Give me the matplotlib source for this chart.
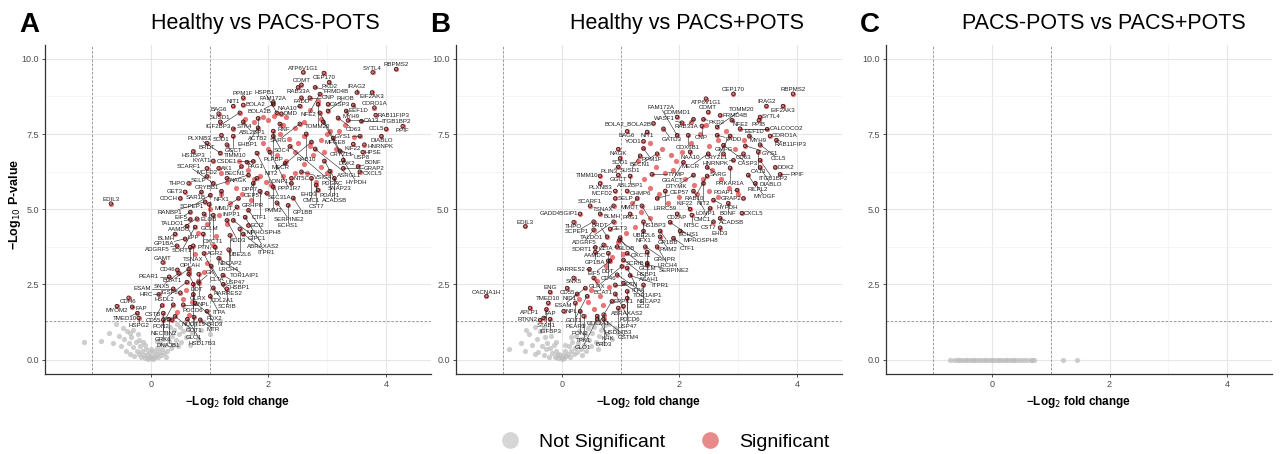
import numpy as np
import matplotlib
matplotlib.use("Agg")
import matplotlib.pyplot as plt
from matplotlib.lines import Line2D

plt.rcParams['font.family'] = ['Liberation Sans', 'DejaVu Sans']

# ---- panel A : Healthy vs PACS-POTS (labelled significant proteins)
a_genes = ["RBPMS2", "SYTL4", "ATP6V1G1", "CEP170", "COMT", "PKD2", "RAB33A", "FRMD4B", "IRAG2", "EIF2AK3",
           "FADD", "CNP", "NFE2", "PPM1F", "FAM172A", "NAA10", "TOMM20", "CASP3", "EEF1D", "CORO1A",
           "NIT1", "BOLA2", "BOLA2B", "HSPB1", "DMD", "BAG6", "IGF2BP3", "MFGE8", "RHOB", "MYH9",
           "RAB11FIP3", "CD63", "CA13", "ITGB1BP2", "SUSD1", "ABL2BP1", "ACTB2", "RNF", "SARG", "CRYZL1",
           "EHBP1", "STK4", "PLPBP", "CCL5", "PPIF", "DIABLO", "RAB10", "GYS1", "DOK2", "SOD1",
           "GGCT", "SDC4", "BRDT", "TIMM10", "MECR", "KIF22", "HNRNPK", "ASRGL1", "HS1BP3", "PLXNB3",
           "SEC31A", "PPP1R7", "PDGFC", "USP8", "HPSE", "KYAT1", "PAG1", "CSDE1", "HYPDH", "MCFD2",
           "AK1", "BECN1", "NIT2", "SNAP23", "GRAP2", "BDNF", "CXCL5", "VSIG4", "PDAP1", "NT5C",
           "ACADSB", "SELP", "NAGK", "CRYBB1", "DPP7", "CMC1", "CST7", "LONP1", "EHD3", "THPO",
           "SCARF1", "GRHPR", "PMM2", "GET3", "SAR1B", "NFX1", "CTF1", "CEP57", "GP1BB", "COCH",
           "SCPEP1", "MMUT", "SERPINE2", "ECHS1", "EDIL3", "RANBP1", "GCLM", "INPP1", "MPHOSPH8", "EIF5",
           "ELOB", "OXCT1", "AAMDC", "TALDO1", "ADD3", "GIPC1", "ABRAXAS2", "ECI2", "LPP", "SORT1",
           "UBE2L6", "ITPR1", "BLMH", "PTN", "NECAP2", "GP1BA", "TSNAX", "ADGRF5", "OPLAH", "AGR2",
           "LRCH4", "CLTA", "TOR1AIP1", "GAMT", "CD46", "BCAT1", "RARRES2", "SNX5", "DDT", "GLRX",
           "USP47", "PEAR1", "HSDL2", "HSBP1", "PDCD6", "GK", "ESAM", "COL2A1", "SCRIB", "HRC",
           "IGSF8", "NUDT15", "ITPA", "CDH6", "MYOM2", "FAP", "CD55", "PON2", "NPL", "FDX2",
           "TMED10", "NECTIN2", "BRD3", "GOT1", "GLO1", "HSPG2", "GRK6", "CSTB", "MTR", "DNAJB1", "HSD17B3"]
a_lfc = [4.17, 3.77, 2.59, 2.94, 2.56, 3.03, 2.50, 2.79, 3.50, 3.76,
         2.56, 2.70, 2.87, 1.57, 2.08, 2.53, 2.84, 3.01, 3.44, 3.80,
         1.40, 1.57, 2.08, 2.14, 2.22, 1.15, 1.51, 2.87, 3.01, 3.32,
         3.82, 3.18, 3.35, 3.58, 1.18, 1.57, 1.82, 2.19, 2.53, 2.93,
         1.82, 1.40, 2.08, 4.00, 4.28, 3.92, 2.64, 3.55, 3.10, 1.20,
         1.40, 2.08, 0.95, 1.29, 2.73, 3.44, 3.63, 2.79, 0.72, 1.18,
         1.80, 2.02, 2.36, 3.21, 3.60, 1.06, 1.63, 1.74, 3.27, 0.95,
         1.15, 1.54, 2.28, 2.95, 3.27, 3.52, 3.55, 2.56, 3.04, 2.39,
         3.12, 0.95, 1.29, 1.66, 1.80, 2.73, 2.81, 2.39, 2.84, 0.64,
         1.06, 1.74, 2.08, 0.58, 0.86, 1.20, 1.85, 1.97, 2.42, 0.50,
         1.01, 1.49, 2.14, 2.33, -0.68, 0.92, 0.99, 1.46, 1.66, 0.67,
         0.90, 1.06, 0.78, 0.67, 1.29, 1.40, 1.60, 1.66, 0.61, 0.75,
         1.51, 1.57, 0.41, 0.89, 1.34, 0.58, 0.72, 0.44, 0.67, 1.09,
         1.32, 0.90, 1.15, 0.20, 0.45, 0.64, 1.02, 0.47, 0.64, 0.81,
         1.22, 0.31, 0.61, 1.23, 0.72, 0.81, 0.38, 1.06, 1.29, 0.13,
         0.50, 0.72, 1.01, -0.38, -0.58, -0.32, 0.19, 0.38, 0.55, 0.75,
         -0.23, 0.21, 0.95, 0.41, 0.73, -0.21, 0.21, 0.36, 0.84, 0.30, 0.62]
a_logp = [9.66, 9.55, 9.55, 9.53, 9.14, 9.22, 9.05, 9.05, 8.88, 8.88,
          8.71, 8.71, 8.83, 8.71, 8.55, 8.43, 8.49, 8.49, 8.47, 8.38,
          8.43, 8.47, 8.49, 8.21, 8.18, 8.18, 8.21, 8.21, 8.27, 8.27,
          8.13, 8.04, 7.95, 7.93, 7.91, 7.91, 8.02, 7.84, 7.84, 7.91,
          7.71, 7.68, 7.60, 7.67, 7.76, 7.43, 7.51, 7.43, 7.37, 7.46,
          7.43, 7.43, 7.20, 7.15, 7.24, 7.17, 7.15, 7.01, 6.92, 6.87,
          6.87, 6.90, 7.09, 6.95, 6.90, 6.61, 6.57, 6.59, 6.64, 6.36,
          6.36, 6.42, 6.53, 6.61, 6.36, 6.42, 6.25, 6.25, 6.27, 6.03,
          6.03, 6.09, 6.03, 6.14, 6.03, 6.03, 5.81, 5.86, 5.64, 5.86,
          5.86, 5.86, 5.75, 5.58, 5.58, 5.60, 5.60, 5.53, 5.38, 5.36,
          5.47, 5.36, 5.22, 5.13, 5.19, 5.25, 5.16, 5.08, 4.97, 4.91,
          4.85, 4.80, 4.69, 4.66, 4.63, 4.63, 4.74, 4.46, 4.44, 4.41,
          4.35, 4.18, 4.18, 4.18, 4.13, 4.02, 3.79, 3.79, 3.74, 3.74,
          3.66, 3.53, 3.37, 3.23, 2.99, 3.01, 3.12, 2.87, 2.84, 2.84,
          2.81, 2.76, 2.58, 2.51, 2.51, 2.56, 2.36, 2.39, 2.36, 2.17,
          2.23, 2.17, 2.11, 2.06, 1.78, 1.76, 1.80, 1.83, 1.83, 1.89,
          1.55, 1.55, 1.61, 1.44, 1.42, 1.39, 1.33, 1.33, 1.33, 1.35, 1.35]
# significant but unlabelled
a_sig_x = [1.6, 1.75, 1.9, 2.0, 2.1, 2.25, 2.3, 2.45, 2.6, 2.7, 2.85, 2.9, 3.05, 2.2, 2.35, 2.5, 2.6,
           2.7, 2.9, 3.0, 3.2, 1.9, 2.0, 2.15, 2.3, 2.45, 2.6, 2.75, 2.95, 3.15, 1.5, 1.65, 1.75, 1.85,
           1.95, 2.05, 2.25, 2.45, 2.65, 2.9, 1.3, 1.45, 1.55, 1.7, 1.2, 1.35, 1.0, 1.15, 1.3, 0.95,
           0.8, 1.1, 0.75, 0.95, 0.65, 0.8, 0.6, 0.55, 0.7, 0.45, 0.65, 0.9, 1.05, 1.2, 3.3, 3.45, 2.8, 3.0]
a_sig_y = [8.0, 7.9, 8.05, 7.95, 8.1, 7.8, 8.05, 7.7, 7.9, 8.3, 8.6, 8.0, 7.6, 7.5, 7.35, 7.2, 7.45,
           7.1, 7.3, 7.5, 7.6, 7.2, 7.0, 6.8, 6.6, 6.9, 6.5, 6.8, 6.9, 7.0, 6.6, 6.3, 6.0, 6.1,
           5.9, 5.8, 6.1, 6.2, 6.2, 6.4, 5.9, 5.7, 5.5, 5.3, 5.5, 5.2, 5.0, 4.8, 4.5, 4.5,
           4.2, 4.1, 3.5, 3.2, 2.9, 2.6, 2.3, 2.0, 1.9, 1.6, 1.5, 2.9, 3.8, 6.2, 7.8, 7.4, 5.9, 6.2]
a_ns_x = [-1.14, -0.85, -0.72, -0.65, -0.6, -0.55, -0.5, -0.48, -0.45, -0.42, -0.4, -0.38, -0.35, -0.33,
          -0.3, -0.28, -0.26, -0.24, -0.22, -0.2, -0.18, -0.16, -0.15, -0.13, -0.12, -0.1, -0.09, -0.07,
          -0.05, -0.04, -0.02, 0.0, 0.02, 0.04, 0.05, 0.07, 0.08, 0.1, 0.12, 0.14, 0.15, 0.17, 0.19, 0.2,
          0.22, 0.24, 0.26, 0.28, 0.3, 0.32, 0.34, 0.36, 0.38, 0.4, 0.42, 0.44, 0.46, 0.48, 0.5, 0.52,
          0.55, 0.58, 0.6, 0.63, 0.66, 0.7, 0.75, 0.8, 0.85, 0.9, 1.0, 1.18, -0.3, -0.1, 0.1, 0.0,
          -0.2, 0.25, -0.35]
a_ns_y = [0.58, 0.62, 0.9, 0.55, 1.2, 0.8, 0.45, 1.05, 0.7, 0.3, 0.95, 0.55, 0.2, 0.75,
          0.42, 0.12, 0.6, 0.3, 0.85, 0.18, 0.45, 0.08, 0.3, 0.6, 0.15, 0.05, 0.35, 0.2,
          0.02, 0.1, 0.25, 0.05, 0.12, 0.03, 0.3, 0.08, 0.18, 0.4, 0.1, 0.25, 0.55, 0.15, 0.35, 0.7,
          0.22, 0.5, 0.9, 0.3, 0.62, 1.1, 0.4, 0.8, 0.5, 1.0, 0.65, 1.2, 0.45, 0.85, 1.1, 0.6,
          0.95, 1.25, 0.75, 1.05, 0.5, 0.9, 1.2, 0.65, 1.0, 1.25, 0.85, 1.28, 1.0, 0.5, 0.62, 0.35,
          0.65, 0.1, 0.9]

# ---- panel B : Healthy vs PACS+POTS
b_genes = ["RBPMS2", "CEP170", "ATP6V1G1", "IRAG2", "EIF2AK3", "COMT", "SYTL4", "COMMD1", "RAB33A", "FRMD4B",
           "PKD2", "NFE2", "PPIB", "BOLA2_BOLA2B", "WASF1", "CNP", "TOMM20", "CALCOCO2", "EEF1D", "BAG6",
           "NIT1", "GATD3", "FAM172A", "COX6B1", "FADD", "CRYZL1", "MYH9", "CORO1A", "YOD1", "RAB11FIP3",
           "NAGK", "PPM1F", "BECN1", "GMFG", "NAA10", "MECR", "CD63", "CASP3", "GYS1", "CCL5",
           "CA13", "SOD1", "SUSD1", "GGACT", "ITGB1BP2", "HNRNPK", "PLIN3", "SARG", "PRKAR1A", "DIABLO",
           "DOK2", "TIMM10", "GGCT", "ABL2BP1", "TYMP", "RAB10", "DTYMK", "RILPL2", "PPIF", "PLXNB3",
           "NIT2", "MYDGF", "MCFD2", "CHMP6", "LRRC59", "LONP1", "PDAP1", "SELP", "MMUT", "CEP57",
           "HYPDH", "GRAP2", "BDNF", "SCARF1", "TSNAX", "HS1BP3", "KIF22", "CMC1", "GADD45GIP1", "BLMH",
           "PAG1", "CD2AP", "NT5C", "CXCL5", "THPO", "SCPEP1", "TALDO1", "UBE2L6", "ECHS1", "CST7",
           "ACADSB", "EDIL3", "EHD3", "ADGRF5", "GET3", "NFX1", "GP1BB", "MPHOSPH8", "BRDT", "ELOB",
           "OXCT1", "PMM2", "CTF1", "SORT1", "AAMDC", "CLTA", "GRHPR", "LRCH4", "GP1BA", "DDT",
           "GCLM", "HSBP1", "CD46", "EIF5", "ASAH1", "SCRIB", "GLRX", "ITPA", "SERPINE2", "RARRES2",
           "TOR1AIP1", "ITPR1", "SNX5", "BCAT1", "PTN", "NECAP2", "ECI2", "CD55", "ESAM", "ABRAXAS2",
           "NID1", "PDCD6", "ENG", "CACNA1H", "GOT1", "USP47", "COL2A1", "TMED10", "PEAR1", "APLP1",
           "STAB1", "NPL", "PON2", "HSD17B3", "EPPK1", "FAP", "IGFBP3", "RTKN2", "TPK1", "KHK",
           "BRD3", "GLO1", "GSTM4"]
b_lfc = [3.93, 2.92, 2.45, 3.48, 3.76, 2.49, 3.37, 1.96, 2.24, 2.69,
         2.41, 2.89, 3.35, 1.56, 2.04, 2.38, 2.64, 3.03, 3.49, 1.11,
         1.45, 1.73, 1.96, 2.15, 2.64, 2.86, 3.19, 3.54, 1.39, 3.65,
         0.96, 1.39, 1.62, 2.75, 2.18, 2.49, 3.09, 2.75, 3.12, 3.37,
         3.34, 0.99, 1.33, 2.07, 3.37, 2.92, 0.96, 2.47, 2.86, 3.37,
         3.63, 0.65, 0.96, 1.16, 1.53, 2.47, 2.24, 3.17, 3.71, 0.65,
         2.41, 3.29, 0.91, 1.11, 1.76, 2.24, 2.98, 0.91, 1.28, 1.62,
         2.58, 3.09, 2.83, 0.48, 0.88, 1.36, 2.18, 2.52, 0.31, 0.65,
         1.16, 1.96, 2.21, 3.06, 0.20, 0.54, 0.88, 1.39, 1.84, 2.58,
         2.69, -0.62, 2.69, 0.54, 0.82, 1.39, 1.67, 2.01, 0.77, 0.99,
         0.98, 1.67, 1.90, 0.57, 0.71, 0.94, 1.42, 1.62, 0.57, 0.79,
         1.11, 1.45, 0.79, 0.82, 1.05, 1.45, 1.02, 1.11, 1.45, 0.47,
         0.94, 1.16, 0.20, 0.54, 0.91, 1.05, 1.39, 0.09, 0.40, 1.11,
         0.26, 0.91, -0.20, -1.28, 0.43, 1.11, 0.85, -0.23, 0.23, -0.54,
         -0.26, 0.03, 0.31, 0.96, 1.05, -0.31, -0.20, -0.37, 0.37, 0.60,
         0.71, 0.60, 0.71]
b_logp = [8.84, 8.84, 8.68, 8.43, 8.43, 8.23, 8.07, 8.07, 7.99, 8.12,
          7.99, 7.96, 7.96, 7.85, 7.88, 7.77, 7.74, 7.68, 7.66, 7.59,
          7.57, 7.68, 7.46, 7.46, 7.46, 7.44, 7.44, 7.44, 7.26, 7.30,
          7.00, 7.02, 6.85, 6.85, 6.91, 6.85, 6.85, 7.13, 7.11, 7.15,
          6.91, 6.69, 6.78, 6.56, 6.63, 6.63, 6.41, 6.39, 6.38, 6.39,
          6.39, 6.11, 6.14, 6.11, 6.16, 6.11, 6.14, 6.14, 6.16, 5.86,
          5.86, 5.86, 5.61, 5.61, 5.61, 5.61, 5.64, 5.36, 5.36, 5.36,
          5.31, 5.36, 5.20, 5.12, 5.12, 5.12, 5.01, 5.03, 4.85, 4.85,
          4.85, 4.85, 4.81, 4.87, 4.57, 4.59, 4.59, 4.59, 4.57, 4.59,
          4.70, 4.43, 4.39, 4.32, 4.35, 4.28, 4.28, 4.28, 4.09, 4.06,
          3.97, 4.09, 4.04, 3.73, 3.82, 3.76, 3.76, 3.76, 3.58, 3.54,
          3.54, 3.58, 3.29, 3.29, 3.32, 3.21, 3.10, 3.05, 3.16, 3.01,
          2.83, 2.80, 2.72, 2.72, 2.49, 2.55, 2.49, 2.38, 2.38, 2.27,
          2.19, 2.19, 2.25, 2.11, 2.11, 2.05, 1.94, 1.89, 1.89, 1.72,
          1.67, 1.61, 1.61, 1.72, 1.78, 1.39, 1.35, 1.32, 1.45, 1.45,
          1.50, 1.34, 1.34]
b_sig_x = [1.5, 1.7, 1.85, 1.95, 2.05, 2.2, 2.35, 2.5, 2.65, 2.8, 2.95, 3.1, 1.6, 1.75, 1.9, 2.1, 2.25,
           2.4, 2.55, 2.7, 2.85, 3.0, 1.4, 1.5, 1.65, 1.8, 2.0, 2.3, 2.5, 2.65, 1.2, 1.35, 1.5, 1.25,
           1.1, 0.95, 1.05, 0.85, 0.75, 0.6, 0.5, 0.65, 0.45, 0.55, 0.7, 0.3, 0.8, 2.2, 2.45, 1.3]
b_sig_y = [7.2, 7.0, 6.8, 6.6, 6.9, 7.2, 7.5, 7.1, 7.3, 7.6, 7.0, 7.3, 6.4, 6.2, 6.3, 6.0, 5.8,
           6.0, 6.3, 6.0, 5.7, 5.5, 6.0, 5.7, 5.5, 5.2, 5.4, 5.5, 5.6, 5.4, 5.2, 4.9, 4.7, 4.4,
           4.2, 3.9, 3.5, 3.4, 3.1, 2.6, 2.3, 2.1, 1.9, 1.7, 1.8, 2.0, 2.4, 7.9, 7.8, 6.6]
b_ns_x = [-0.9, -0.7, -0.62, -0.55, -0.5, -0.46, -0.42, -0.4, -0.37, -0.34, -0.31, -0.29, -0.27, -0.25,
          -0.22, -0.2, -0.18, -0.16, -0.14, -0.12, -0.1, -0.08, -0.06, -0.04, -0.02, 0.0, 0.02, 0.04,
          0.06, 0.08, 0.1, 0.12, 0.14, 0.16, 0.18, 0.2, 0.22, 0.24, 0.26, 0.28, 0.3, 0.32, 0.34, 0.36,
          0.38, 0.4, 0.42, 0.44, 0.46, 0.48, 0.5, 0.52, 0.55, 0.58, 0.6, 0.63, 0.66, 0.7, 0.73, 0.77,
          0.8, 0.85, 0.9, 0.95, -0.3, -0.1, 0.05, 0.15, -0.45, 0.35, 0.62, -0.6]
b_ns_y = [0.34, 0.55, 0.3, 0.85, 0.5, 1.1, 0.7, 0.25, 0.95, 0.45, 0.15, 0.75, 0.35, 0.55,
          0.1, 0.4, 0.8, 0.22, 0.5, 0.08, 0.3, 0.15, 0.04, 0.2, 0.1, 0.02, 0.15, 0.06,
          0.28, 0.12, 0.2, 0.45, 0.08, 0.3, 0.6, 0.18, 0.4, 0.8, 0.25, 0.55, 0.95, 0.35, 0.7, 1.15,
          0.5, 0.85, 0.3, 1.05, 0.65, 1.2, 0.45, 0.9, 1.1, 0.6, 1.25, 0.8, 1.0, 0.55, 1.15, 0.85,
          1.2, 0.7, 1.05, 0.9, 1.05, 0.6, 0.5, 0.75, 0.2, 0.15, 0.35, 1.0]

# ---- panel C : PACS-POTS vs PACS+POTS (nothing significant)
c_ns_x = [-0.72, -0.64, -0.6, -0.56, -0.52, -0.48, -0.44, -0.4, -0.36, -0.32, -0.28, -0.24, -0.2,
          -0.16, -0.12, -0.08, -0.04, 0.0, 0.04, 0.08, 0.12, 0.16, 0.2, 0.24, 0.28, 0.32, 0.36, 0.4,
          0.44, 0.5, 0.54, 0.6, 0.66, 0.68, 0.72, 1.21, 1.45]
c_ns_y = [0.0, 0.0, 0.0, 0.0, 0.0, 0.0, 0.0, 0.0, 0.0, 0.0, 0.0, 0.0, 0.0,
          0.0, 0.0, 0.0, 0.0, 0.0, 0.0, 0.0, 0.0, 0.0, 0.0, 0.0, 0.0, 0.0, 0.0, 0.0,
          0.0, 0.0, 0.0, 0.0, 0.0, 0.0, 0.0, 0.0, 0.0]

titles = ["Healthy vs PACS-POTS", "Healthy vs PACS+POTS", "PACS-POTS vs PACS+POTS"]
letters = ["A", "B", "C"]

RED = '#D7191C'
GREY = '#BEBEBE'
INK = '#1e1e1e'

# preferred directions for a label: above, below, right, left, then diagonals and the rest
ANG = np.deg2rad([90, 270, 0, 180, 45, 135, 225, 315, 67, 113, 247, 293, 22, 158, 202, 338])


def place_labels(ax, x, y, names, obst):
    # greedy ggrepel stand-in: each label goes to the nearest free spot around its point
    r = ax.figure.canvas.get_renderer()
    anchor = ax.transData.transform(np.column_stack([x, y]))
    obs = ax.transData.transform(obst)
    txt = [ax.text(a, b, n, fontsize=4.4, color=INK, ha='center', va='center', zorder=6)
           for a, b, n in zip(x, y, names)]
    half = np.array([[t.get_window_extent(r).width, t.get_window_extent(r).height] for t in txt]) / 2
    half += [0.6, 0.1]
    bb = ax.get_window_extent()
    pos = anchor.copy()
    placed = np.zeros((0, 4))
    for i in range(len(names)):
        hw, hh = half[i]
        for rad in np.arange(1.5, 300, 2.0):
            cand = anchor[i] + np.column_stack([np.cos(ANG) * (hw + rad), np.sin(ANG) * (hh + rad)])
            ok = ((cand[:, 0] - hw > bb.x0 + 1) & (cand[:, 0] + hw < bb.x1 - 1) &
                  (cand[:, 1] - hh > bb.y0 + 1) & (cand[:, 1] + hh < bb.y1 - 1))
            near = ((np.abs(cand[:, None, 0] - obs[None, :, 0]) < hw + 1.2) &
                    (np.abs(cand[:, None, 1] - obs[None, :, 1]) < hh + 1.2))
            ok &= ~near.any(1)
            if len(placed):
                clash = ((np.abs(cand[:, None, 0] - placed[None, :, 0]) < hw + placed[None, :, 2]) &
                         (np.abs(cand[:, None, 1] - placed[None, :, 1]) < hh + placed[None, :, 3]))
                ok &= ~clash.any(1)
            if ok.any():
                pos[i] = cand[np.argmax(ok)]
                break
        placed = np.vstack([placed, [pos[i, 0], pos[i, 1], hw, hh]])
    inv = ax.transData.inverted()
    for t, p in zip(txt, inv.transform(pos)):
        t.set_position(p)
    v = pos - anchor
    f = np.min(half / np.maximum(np.abs(v), 1e-9), axis=1)
    end = pos - v * np.minimum(f, 1)[:, None]
    for a, b, ff in zip(anchor, end, f):
        if ff < 1 and np.hypot(*(b - a)) > 2.5:
            seg = inv.transform(np.array([a, b]))
            ax.plot(seg[:, 0], seg[:, 1], color=INK, lw=0.4, zorder=5)


def volcano(ax, ns_x, ns_y, sig_x, sig_y, lfc, logp, genes):
    ax.set_xlim(-1.8, 4.76)
    ax.set_ylim(-0.48, 10.46)
    ax.set_xticks([0, 2, 4])
    ax.set_xticks([-1, 1, 3], minor=True)
    ax.set_yticks([0, 2.5, 5, 7.5, 10])
    ax.set_yticklabels(['0.0', '2.5', '5.0', '7.5', '10.0'])
    ax.set_yticks([1.25, 3.75, 6.25, 8.75], minor=True)
    ax.grid(which='major', color='#E6E6E6', lw=0.8)
    ax.grid(which='minor', color='#F1F1F1', lw=0.5)
    ax.set_axisbelow(True)
    ax.tick_params(which='minor', length=0)
    ax.tick_params(which='major', length=2.5, width=0.6, color='#333333',
                   labelsize=6.5, labelcolor='#4D4D4D', pad=2)
    for s in ['top', 'right']:
        ax.spines[s].set_visible(False)
    for s in ['left', 'bottom']:
        ax.spines[s].set_linewidth(0.9)
        ax.spines[s].set_color('#333333')
    for xv in (-1, 1):
        ax.axvline(xv, color='#8C8C8C', lw=0.6, ls=(0, (3, 2)), zorder=1)
    ax.axhline(-np.log10(0.05), color='#8C8C8C', lw=0.6, ls=(0, (3, 2)), zorder=1)
    ax.scatter(ns_x, ns_y, s=14, color=GREY, alpha=0.75, lw=0, zorder=2)
    if len(genes):
        ax.scatter(sig_x, sig_y, s=14, color=RED, alpha=0.6, lw=0, zorder=3)
        ax.scatter(lfc, logp, s=14, color=RED, alpha=0.6, lw=0, zorder=3)
        ax.scatter(lfc, logp, s=6, facecolor='none', edgecolor=INK, lw=0.55, zorder=4)
        obst = np.column_stack([list(lfc) + list(sig_x), list(logp) + list(sig_y)])
        place_labels(ax, lfc, logp, genes, obst)
    ax.set_xlabel('\u2212Log$_2$ fold change', fontweight='bold', fontsize=8.5, labelpad=3)


fig = plt.figure(figsize=(12.86, 4.54), dpi=100)
lefts = [0.035, 0.3545, 0.689]
axes = [fig.add_axes([l, 0.176, 0.300, 0.725]) for l in lefts]
fig.canvas.draw()

volcano(axes[0], a_ns_x, a_ns_y, a_sig_x, a_sig_y, a_lfc, a_logp, a_genes)
volcano(axes[1], b_ns_x, b_ns_y, b_sig_x, b_sig_y, b_lfc, b_logp, b_genes)
volcano(axes[2], c_ns_x, c_ns_y, [], [], [], [], [])

fig.text(15 / 1286, 1 - 204 / 454, '\u2212Log$_{10}$ P-value', rotation=90, ha='center', va='center',
         fontweight='bold', fontsize=9)

for tx, lx, t, l in zip([0.206, 0.534, 0.858], [0.0225, 0.342, 0.6765], titles, letters):
    fig.text(tx, 0.949, t, ha='center', va='center', fontsize=15.5)
    fig.text(lx, 0.946, l, ha='center', va='center', fontsize=20, fontweight='bold')

handles = [Line2D([], [], ls='', marker='o', ms=12, mfc='#D6D6D6', mec='none'),
           Line2D([], [], ls='', marker='o', ms=12, mfc='#E88A8A', mec='none')]
fig.legend(handles, ['Not Significant', 'Significant'], loc='center', bbox_to_anchor=(0.513, 0.027),
           ncol=2, frameon=False, fontsize=14, handletextpad=0.5, columnspacing=1.3)

fig.savefig('out.png', dpi=100)
